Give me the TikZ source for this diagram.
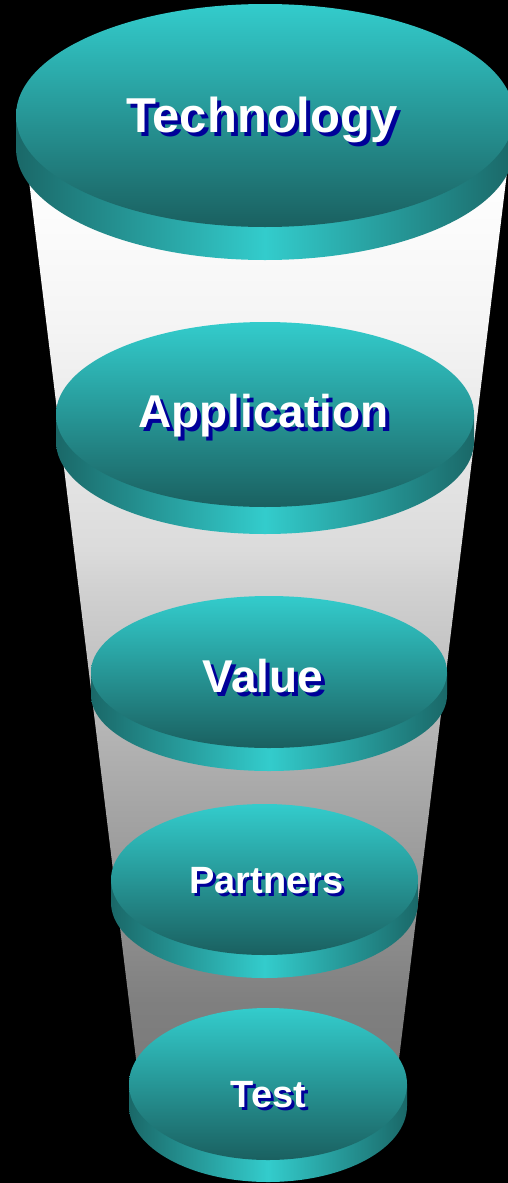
\documentclass[tikz,border=0pt]{standalone}
\usepackage{fontspec}
\setmainfont{Liberation Sans}
\definecolor{tealhi}{RGB}{51,204,204}
\definecolor{teallo}{RGB}{26,96,96}
\definecolor{rimedge}{RGB}{26,104,104}
\definecolor{shadowblue}{RGB}{0,0,153}
% funnel body: near white at the mouth, mid gray at the bottom
\pgfdeclareverticalshading{funnelgray}{100bp}{%
  rgb(0bp)=(0.47,0.47,0.47);
  rgb(25bp)=(0.47,0.47,0.47);
  rgb(30bp)=(0.50,0.50,0.50);
  rgb(40bp)=(0.65,0.65,0.65);
  rgb(51bp)=(0.82,0.82,0.82);
  rgb(53bp)=(0.86,0.86,0.86);
  rgb(64.5bp)=(0.96,0.96,0.96);
  rgb(70.5bp)=(0.99,0.99,0.99);
  rgb(75bp)=(1,1,1);
  rgb(100bp)=(1,1,1)}
\tikzset{
  topshade/.style={top color=tealhi, bottom color=teallo},
  rimshade/.style={left color=rimedge, right color=rimedge, middle color=tealhi},
  labeltext/.style={inner sep=0pt, anchor=base, text=white},
}
% disc: centre x, centre y, x radius, y radius, thickness
\newcommand\drawdisc[5]{%
  \shade[rimshade] (#1-#3,#2) -- (#1-#3,#2+#5)
    arc[start angle=180, end angle=360, x radius=#3pt, y radius=#4pt]
    -- (#1+#3,#2) -- cycle;
  \shade[topshade] (#1,#2) ellipse [x radius=#3pt, y radius=#4pt];
}
% white text with a dark blue drop shadow: offset, text
\newcommand\dropshadowtext[2]{%
  \rlap{\kern#1\raisebox{-#1}{\color{shadowblue}#2}}#2}
% label node: name, x, baseline y, shadow offset, font size, text
\newcommand\disclabel[6]{%
  \node[labeltext, font=\fontsize{#5}{#5}\selectfont\bfseries] (#1) at (#2,#3)
    {\dropshadowtext{#4pt}{#6}};
}
\begin{document}
\begin{tikzpicture}[x=1pt, y=-1pt]
  \useasboundingbox (0,0) rectangle (508,1183);
  \clip (0,0) rectangle (508,1183);
  \fill[black] (0,0) rectangle (508,1183);
  % funnel
  \shade[shading=funnelgray] (21,115) -- (514,115) -- (394,1100) -- (141,1100) -- cycle;
  % discs
  \drawdisc{265}{115.5}{249}{111.5}{33}
  \drawdisc{265}{414.5}{209}{92.5}{27}
  \drawdisc{269}{672}{178}{76}{23}
  \drawdisc{264.5}{879.5}{153.5}{75.5}{23}
  \drawdisc{268}{1084}{139}{76}{22}
  % labels
  \disclabel{technology}{262}{132}{4}{49}{Technology}
  \disclabel{application}{263.5}{427}{4}{46}{Application}
  \disclabel{value}{263}{692}{4}{46}{Value}
  \disclabel{partners}{266.5}{893}{3}{38}{Partners}
  \disclabel{test}{268.5}{1107}{3}{38}{Test}
\end{tikzpicture}
\end{document}
